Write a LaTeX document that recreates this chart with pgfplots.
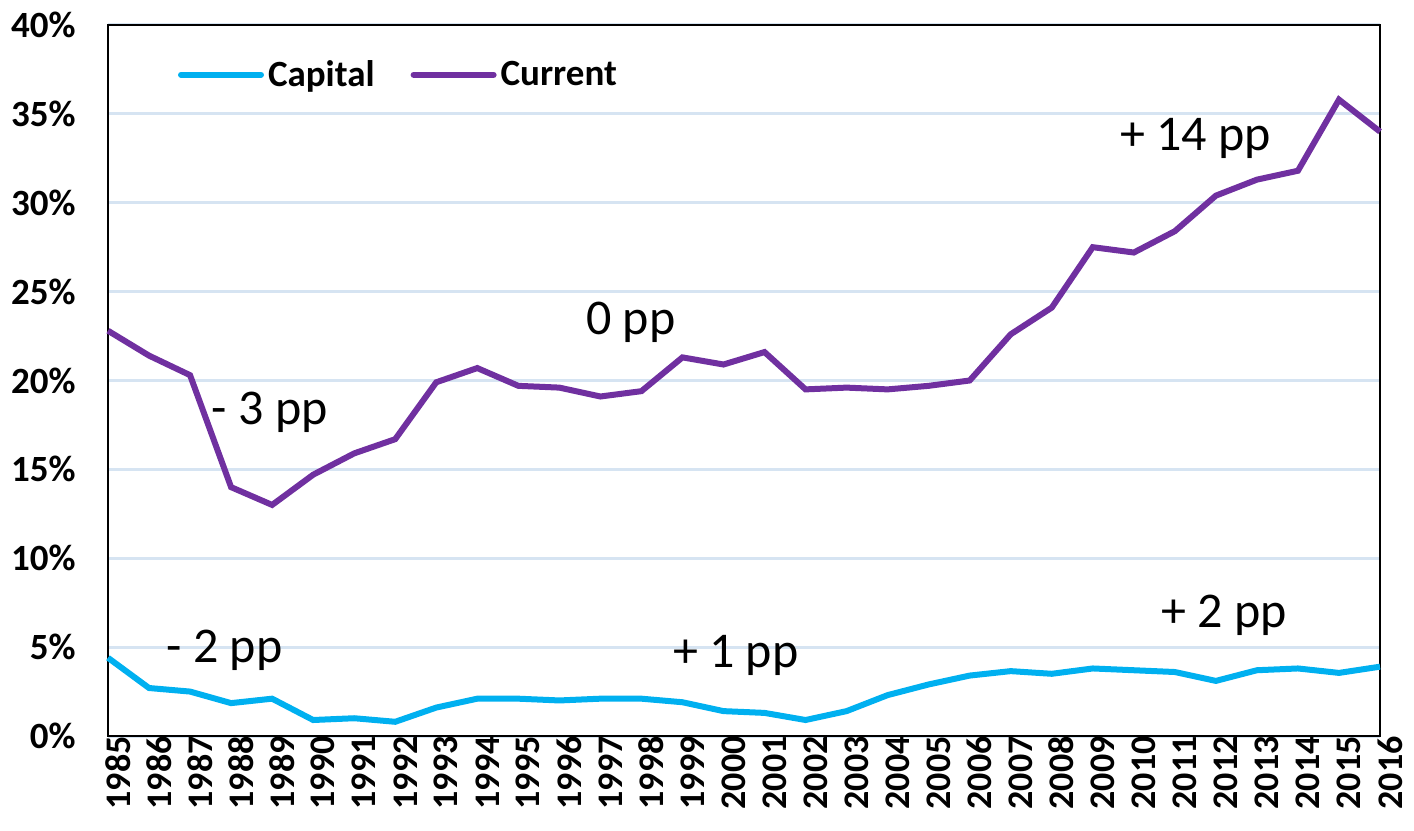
\documentclass[border=0pt]{standalone}
\usepackage{fontspec}
\setmainfont{Carlito}
\usepackage{pgfplots}
\pgfplotsset{compat=1.18}
\definecolor{capc}{RGB}{0,176,240}
\definecolor{curc}{RGB}{112,48,160}
\definecolor{gridc}{RGB}{214,228,242}
\begin{document}
\begin{tikzpicture}
\begin{axis}[
  name=ax,
  scale only axis,
  width=636pt, height=355.5pt,
  xmin=1985, xmax=2016, ymin=0, ymax=40,
  xtick={1985,...,2016},
  ytick={0,5,...,40},
  yticklabels={0\%,5\%,10\%,15\%,20\%,25\%,30\%,35\%,40\%},
  /pgf/number format/.cd, 1000 sep={}, assume math mode=true, /pgfplots/.cd,
  xticklabel style={rotate=90, anchor=east, font=\fontsize{18}{18}\selectfont\bfseries, inner sep=0pt, yshift=-5pt},
  yticklabel style={font=\fontsize{18.5}{18.5}\selectfont\bfseries, inner sep=2pt, xshift=-14pt},
  major tick length=0pt,
  ymajorgrids,
  grid style={gridc, line width=1.5pt},
  axis line style={black, line width=0.8pt},
  legend style={draw=none, fill=none, at={(0.05,0.93)}, anchor=west,
    legend columns=2, font=\fontsize{18.5}{18.5}\selectfont\bfseries,
    /tikz/every even column/.append style={column sep=16pt}},
  legend image code/.code={\draw[#1, line cap=round] (0pt,0pt) -- (40pt,0pt);},
  clip=false,
]
\addplot[capc, line width=3pt] coordinates {
(1985,4.4) (1986,2.7) (1987,2.5) (1988,1.85) (1989,2.1) (1990,0.9) (1991,1.0) (1992,0.8)
(1993,1.6) (1994,2.1) (1995,2.1) (1996,2.0) (1997,2.1) (1998,2.1) (1999,1.9) (2000,1.4)
(2001,1.3) (2002,0.9) (2003,1.4) (2004,2.3) (2005,2.9) (2006,3.4) (2007,3.65) (2008,3.5)
(2009,3.8) (2010,3.7) (2011,3.6) (2012,3.1) (2013,3.7) (2014,3.8) (2015,3.55) (2016,3.9)};
\addlegendentry{Capital}
\addplot[curc, line width=3pt] coordinates {
(1985,22.8) (1986,21.4) (1987,20.3) (1988,14.0) (1989,13.0) (1990,14.7) (1991,15.9) (1992,16.7)
(1993,19.9) (1994,20.7) (1995,19.7) (1996,19.6) (1997,19.1) (1998,19.4) (1999,21.3) (2000,20.9)
(2001,21.6) (2002,19.5) (2003,19.6) (2004,19.5) (2005,19.7) (2006,20.0) (2007,22.6) (2008,24.1)
(2009,27.5) (2010,27.2) (2011,28.4) (2012,30.4) (2013,31.3) (2014,31.8) (2015,35.8) (2016,34.0)};
\addlegendentry{Current}
\node[font=\fontsize{25}{25}\selectfont] at (axis cs:2011.5,33.6) {+ 14 pp};
\node[font=\fontsize{25}{25}\selectfont] at (axis cs:1997.74,23.3) {0 pp};
\node[font=\fontsize{25}{25}\selectfont] at (axis cs:1988.94,18.2) {- 3 pp};
\node[font=\fontsize{25}{25}\selectfont] at (axis cs:1987.84,4.8) {- 2 pp};
\node[font=\fontsize{25}{25}\selectfont] at (axis cs:2000.3,4.55) {+ 1 pp};
\node[font=\fontsize{25}{25}\selectfont] at (axis cs:2012.2,6.8) {+ 2 pp};
\end{axis}
\pgfresetboundingbox
\path ([xshift=-54pt,yshift=-47pt]ax.south west) rectangle ([xshift=17pt,yshift=12.5pt]ax.north east);
\end{tikzpicture}
\end{document}
